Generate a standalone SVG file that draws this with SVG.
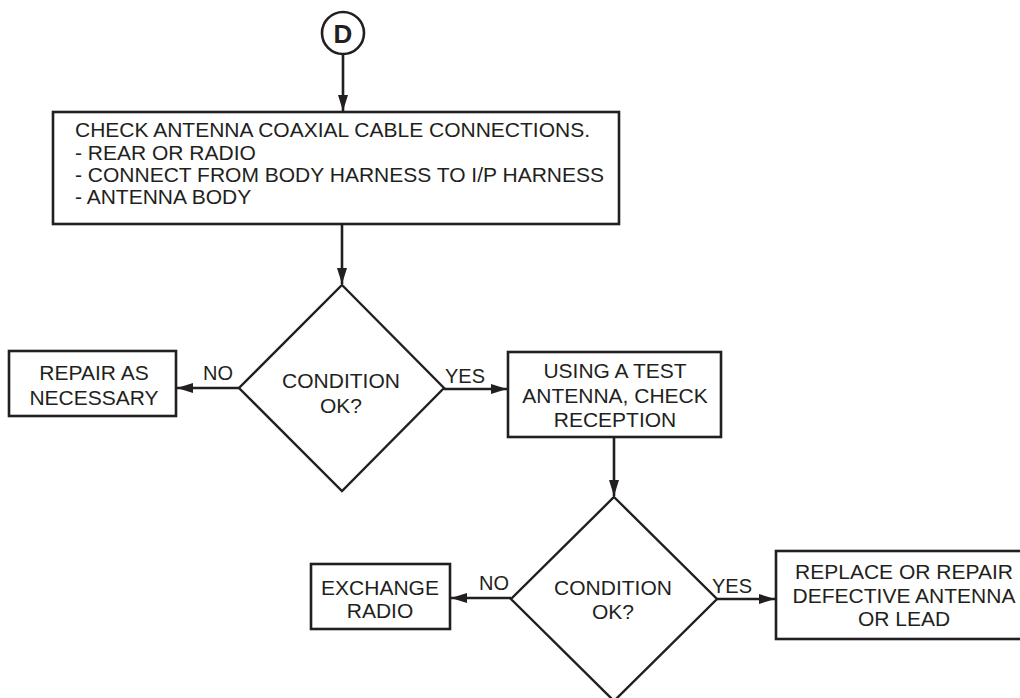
<svg xmlns="http://www.w3.org/2000/svg" width="1020" height="698" viewBox="0 0 1020 698">
<defs>
<style>
.box{fill:#fff;stroke:#231f20;stroke-width:2.6}
.dia{fill:#fff;stroke:#231f20;stroke-width:2.4}
.con{fill:none;stroke:#231f20;stroke-width:2.6}
text{font-family:"Liberation Sans",Arial,sans-serif;font-size:21px;fill:#231f20}
.c{text-anchor:middle}
.lbl{font-size:20px}
</style>
<marker id="ah" viewBox="0 0 16 10" refX="16" refY="5" markerWidth="16" markerHeight="10" markerUnits="userSpaceOnUse" orient="auto">
<path d="M0,0 L16,5 L0,10 Z" fill="#231f20"/>
</marker>
</defs>
<rect width="1020" height="698" fill="#fff"/>
<g id="connectors">
<line class="con" x1="343" y1="54" x2="343" y2="111" marker-end="url(#ah)"/>
<line class="con" x1="342" y1="224" x2="342" y2="284" marker-end="url(#ah)"/>
<line class="con" x1="239" y1="388" x2="177" y2="388" marker-end="url(#ah)"/>
<line class="con" x1="444" y1="389" x2="507" y2="389" marker-end="url(#ah)"/>
<line class="con" x1="614" y1="437" x2="614" y2="496" marker-end="url(#ah)"/>
<line class="con" x1="511" y1="598" x2="451" y2="598" marker-end="url(#ah)"/>
<line class="con" x1="717" y1="599" x2="775" y2="599" marker-end="url(#ah)"/>
<text class="lbl" x="218" y="380" text-anchor="middle">NO</text>
<text class="lbl" x="465" y="383" text-anchor="middle">YES</text>
<text class="lbl" x="494" y="590" text-anchor="middle">NO</text>
<text class="lbl" x="732" y="593" text-anchor="middle">YES</text>
</g>
<g id="start-d">
<circle cx="343" cy="33" r="21" fill="#fff" stroke="#231f20" stroke-width="2.6"/>
<text x="343" y="43" class="c" style="font-size:26px;font-weight:bold">D</text>
</g>
<g id="check-connections">
<rect class="box" x="53" y="112" width="566" height="112"/>
<text x="75" y="137">CHECK ANTENNA COAXIAL CABLE CONNECTIONS.</text>
<text x="75" y="160">- REAR OR RADIO</text>
<text x="75" y="182">- CONNECT FROM BODY HARNESS TO I/P HARNESS</text>
<text x="75" y="204">- ANTENNA BODY</text>
</g>
<g id="condition-1">
<polygon class="dia" points="342,285 444,388 342,491 239,388"/>
<text x="341" y="388" class="c">CONDITION</text>
<text x="341" y="413" class="c">OK?</text>
</g>
<g id="repair">
<rect class="box" x="9" y="351" width="167" height="65"/>
<text x="94" y="380" class="c">REPAIR AS</text>
<text x="94" y="405" class="c">NECESSARY</text>
</g>
<g id="test-antenna">
<rect class="box" x="508" y="352" width="213" height="85"/>
<text x="615" y="378" class="c">USING A TEST</text>
<text x="615" y="403" class="c">ANTENNA, CHECK</text>
<text x="615" y="427" class="c">RECEPTION</text>
</g>
<g id="condition-2">
<polygon class="dia" points="614,497 717,599 614,701 511,599"/>
<text x="613" y="595" class="c">CONDITION</text>
<text x="613" y="619" class="c">OK?</text>
</g>
<g id="exchange">
<rect class="box" x="311" y="564" width="139" height="65"/>
<text x="380" y="595" class="c">EXCHANGE</text>
<text x="380" y="618" class="c">RADIO</text>
</g>
<g id="replace">
<rect class="box" x="776" y="551" width="260" height="88"/>
<text x="904" y="579" class="c">REPLACE OR REPAIR</text>
<text x="904" y="603" class="c">DEFECTIVE ANTENNA</text>
<text x="904" y="626" class="c">OR LEAD</text>
</g>
</svg>
